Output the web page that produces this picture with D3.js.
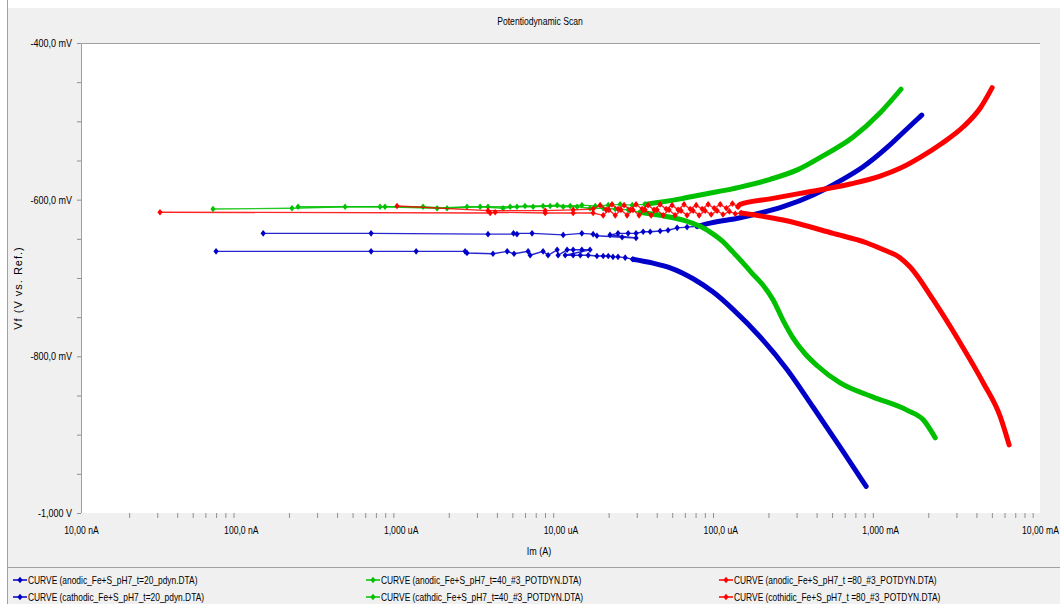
<!DOCTYPE html>
<html>
<head>
<meta charset="utf-8">
<script src="https://cdnjs.cloudflare.com/ajax/libs/d3/7.8.5/d3.min.js"></script>
<style>
  html, body { margin: 0; padding: 0; background: #fff; }
  svg { display: block; font-family: "Liberation Sans", Arial, sans-serif; }
</style>
</head>
<body>
<svg id="chart" width="1060" height="604"></svg>
<script>
// Potentiodynamic scan - Fe+S pH7 at t=20/40/80
// points are [current (A), potential (mV)]

const chartTitle = 'Potentiodynamic Scan'
const xTitle = 'Im (A)'
const yTitle = 'Vf (V vs. Ref.)'

const xTickValues = [1e-8, 1e-7, 1e-6, 1e-5, 1e-4, 1e-3, 1e-2]
const xTickLabels = ['10,00 nA', '100,0 nA', '1,000 uA', '10,00 uA', '100,0 uA', '1,000 mA', '10,00 mA']
const yTickValues = [-400, -600, -800, -1000]
const yTickLabels = ['-400,0 mV', '-600,0 mV', '-800,0 mV', '-1,000 V']

const legendLabels = [
  'CURVE (anodic_Fe+S_pH7_t=20_pdyn.DTA)',
  'CURVE (cathodic_Fe+S_pH7_t=20_pdyn.DTA)',
  'CURVE (anodic_Fe+S_pH7_t=40_#3_POTDYN.DTA)',
  'CURVE (cathdic_Fe+S_pH7_t=40_#3_POTDYN.DTA)',
  'CURVE (anodic_Fe+S_pH7_t =80_#3_POTDYN.DTA)',
  'CURVE (cothidic_Fe+S_pH7_t =80_#3_POTDYN.DTA)'
]

// t=20 anodic
const blueAnodicNear = [
  [1.38e-7, -643], [6.53e-7, -643], [3.52e-6, -644], [5.34e-6, -644], [5.08e-6, -643],
  [6.64e-6, -643], [1.04e-5, -645], [1.36e-5, -643], [1.60e-5, -644], [1.69e-5, -646],
  [2.43e-5, -648], [2.97e-5, -649], [2.04e-5, -645], [2.29e-5, -643], [2.65e-5, -643],
  [2.97e-5, -643], [3.29e-5, -641], [3.64e-5, -641], [4.20e-5, -640], [4.71e-5, -639],
  [5.37e-5, -636], [6.19e-5, -635], [7.16e-5, -634]
]
const blueAnodicBranch = [
  [7.16e-5, -634], [8.63e-5, -630], [1.33e-4, -623], [2.47e-4, -609], [3.81e-4, -594],
  [5.62e-4, -576], [7.83e-4, -558], [1.11e-3, -533], [1.43e-3, -512], [1.82e-3, -492]
]

// t=20 cathodic
const blueCathodicNear = [
  [7.00e-8, -666], [6.53e-7, -666], [1.25e-6, -666], [2.53e-6, -666], [2.60e-6, -668],
  [3.78e-6, -669], [4.64e-6, -666], [5.12e-6, -669], [6.27e-6, -666], [6.46e-6, -671],
  [7.78e-6, -666], [8.36e-6, -671], [9.53e-6, -664], [9.66e-6, -671], [1.10e-5, -664],
  [1.20e-5, -664], [1.36e-5, -664], [1.53e-5, -664], [1.07e-5, -671], [1.20e-5, -671],
  [1.33e-5, -671], [1.49e-5, -671], [1.69e-5, -672], [1.85e-5, -672], [1.99e-5, -672],
  [2.13e-5, -673], [2.29e-5, -673], [2.54e-5, -674], [2.84e-5, -676]
]
const blueCathodicBranch = [
  [2.84e-5, -676], [3.79e-5, -681], [4.86e-5, -687], [6.76e-5, -701], [9.02e-5, -718],
  [1.20e-4, -740], [1.77e-4, -775], [2.62e-4, -817], [3.81e-4, -865], [5.62e-4, -916],
  [8.17e-4, -966]
]

// t=40 anodic
const greenAnodicNear = [
  [6.70e-8, -612], [2.09e-7, -611], [4.49e-7, -609], [7.98e-7, -609], [1.69e-6, -611],
  [2.60e-6, -609], [3.52e-6, -609], [4.84e-6, -609], [6.00e-6, -608], [7.78e-6, -608],
  [9.53e-6, -607], [1.15e-5, -608], [1.36e-5, -607], [1.65e-5, -608], [1.99e-5, -607],
  [2.36e-5, -606], [2.81e-5, -607], [3.38e-5, -606]
]
const greenAnodicBranch = [
  [3.38e-5, -606], [5.60e-5, -599], [7.48e-5, -594], [1.33e-4, -584], [2.05e-4, -574],
  [3.03e-4, -562], [4.22e-4, -546], [6.78e-4, -520], [1.00e-3, -489], [1.35e-3, -459]
]

// t=40 cathodic
const greenCathodicNear = [
  [2.28e-7, -609], [7.43e-7, -609], [1.38e-6, -609], [1.95e-6, -611], [3.14e-6, -609],
  [4.37e-6, -611], [5.34e-6, -609], [6.74e-6, -609], [8.61e-6, -608], [1.04e-5, -609],
  [1.27e-5, -609], [1.53e-5, -611], [1.85e-5, -611], [2.20e-5, -612], [2.65e-5, -613],
  [3.15e-5, -616]
]
const greenCathodicBranch = [
  [3.15e-5, -616], [4.20e-5, -620], [5.85e-5, -626], [7.48e-5, -634], [8.89e-5, -643],
  [1.03e-4, -653], [1.20e-4, -667], [1.39e-4, -681], [1.58e-4, -694], [1.83e-4, -708],
  [2.14e-4, -728], [2.47e-4, -754], [2.86e-4, -777], [3.40e-4, -797], [4.04e-4, -812],
  [5.62e-4, -834], [9.04e-4, -852], [1.48e-3, -869], [1.86e-3, -881], [2.21e-3, -904]
]

// t=80 anodic
const redAnodicNear = [
  [9.49e-7, -608], [3.52e-6, -614], [8.02e-6, -614], [1.20e-5, -613], [1.60e-5, -612],
  [1.77e-5, -607], [1.93e-5, -613], [2.10e-5, -606], [2.29e-5, -612], [2.50e-5, -607],
  [2.73e-5, -613], [2.97e-5, -606], [3.24e-5, -612], [3.53e-5, -607], [3.85e-5, -613],
  [4.20e-5, -606], [4.58e-5, -612], [4.99e-5, -607], [5.44e-5, -613], [5.93e-5, -606],
  [6.47e-5, -612], [7.06e-5, -607], [7.69e-5, -612], [8.39e-5, -606], [9.15e-5, -611],
  [9.98e-5, -606], [1.09e-4, -611], [1.19e-4, -605], [1.29e-4, -609]
]
const redAnodicBranch = [
  [1.29e-4, -609], [1.33e-4, -606], [2.05e-4, -599], [3.16e-4, -592], [6.49e-4, -580],
  [1.00e-3, -570], [1.33e-3, -560], [1.78e-3, -546], [2.44e-3, -528], [3.31e-3, -507],
  [4.23e-3, -483], [5.02e-3, -457]
]

// t=80 cathodic
const redCathodicNear = [
  [3.12e-8, -616], [3.63e-6, -617], [3.90e-6, -616], [8.02e-6, -617], [1.20e-5, -617],
  [1.60e-5, -617], [1.85e-5, -620], [2.01e-5, -613], [2.20e-5, -620], [2.39e-5, -613],
  [2.61e-5, -620], [2.84e-5, -613], [3.10e-5, -620], [3.38e-5, -613], [3.69e-5, -620],
  [4.02e-5, -613], [4.39e-5, -620], [4.78e-5, -613], [5.21e-5, -620], [5.68e-5, -614],
  [6.19e-5, -620], [6.76e-5, -614], [7.37e-5, -620], [8.03e-5, -614], [8.76e-5, -619],
  [9.55e-5, -614], [1.04e-4, -619], [1.14e-4, -615], [1.24e-4, -618], [1.35e-4, -617]
]
const redCathodicBranch = [
  [1.35e-4, -617], [2.47e-4, -626], [5.08e-4, -643], [8.20e-4, -655], [1.05e-3, -664],
  [1.33e-3, -674], [1.54e-3, -686], [2.15e-3, -728], [3.17e-3, -783], [4.42e-3, -834],
  [5.64e-3, -877], [6.41e-3, -913]
]

const BLUE = '#0000c8'
const GREEN = '#00c000'
const RED = '#ff0000'

const series = [
  { name: legendLabels[0], color: BLUE, near: blueAnodicNear, branch: blueAnodicBranch },
  { name: legendLabels[1], color: BLUE, near: blueCathodicNear, branch: blueCathodicBranch },
  { name: legendLabels[2], color: GREEN, near: greenAnodicNear, branch: greenAnodicBranch },
  { name: legendLabels[3], color: GREEN, near: greenCathodicNear, branch: greenCathodicBranch },
  { name: legendLabels[4], color: RED, near: redAnodicNear, branch: redAnodicBranch },
  { name: legendLabels[5], color: RED, near: redCathodicNear, branch: redCathodicBranch }
]

const width = 1060
const height = 604
const plot = { left: 81, top: 43, right: 1040, bottom: 513 }
const narrow = 'scale(0.82,1)'   // the original uses a condensed UI font

const svg = d3.select('#chart')

// panel
svg.append('rect')
  .attr('x', 8).attr('y', 8)
  .attr('width', width - 8).attr('height', height - 8)
  .attr('fill', '#f0f0f0')

svg.append('line')
  .attr('x1', 7.5).attr('x2', 7.5)
  .attr('y1', 0).attr('y2', height)
  .attr('stroke', '#a0a0a0')

// plot area
svg.append('rect')
  .attr('x', plot.left).attr('y', plot.top)
  .attr('width', plot.right - plot.left).attr('height', plot.bottom - plot.top)
  .attr('fill', '#ffffff')

svg.append('path')
  .attr('d', `M${plot.left + 0.5},${plot.bottom}V${plot.top + 0.5}H${plot.right}`)
  .attr('fill', 'none')
  .attr('stroke', '#a0a0a0')

const x = d3.scaleLog().domain([1e-8, 1e-2]).range([plot.left, plot.right])
const y = d3.scaleLinear().domain([-1000, -400]).range([plot.bottom, plot.top])

// x axis: minor ticks + decade labels
const xMinor = x.ticks().filter(v => Math.abs(Math.log10(v) - Math.round(Math.log10(v))) > 1e-6)

const xMinorAxis = svg.append('g')
  .attr('transform', `translate(0,${plot.bottom})`)
  .call(d3.axisBottom(x).tickValues(xMinor).tickSize(5).tickFormat(''))
xMinorAxis.select('.domain').remove()
xMinorAxis.selectAll('line').attr('stroke', '#909090')

const xLabelAxis = svg.append('g')
  .attr('transform', `translate(0,${plot.bottom})`)
  .call(d3.axisBottom(x).tickValues(xTickValues).tickSize(0).tickPadding(14)
    .tickFormat((d, i) => xTickLabels[i]))
xLabelAxis.select('.domain').remove()
xLabelAxis.selectAll('text')
  .attr('font-family', null)
  .attr('transform', narrow)
  .style('font-size', '10.5px')
  .attr('fill', '#000')

// y axis: 50 mV ticks + labels every 200 mV
const yMinor = d3.range(-1000, -399, 50)

const yMinorAxis = svg.append('g')
  .attr('transform', `translate(${plot.left},0)`)
  .call(d3.axisLeft(y).tickValues(yMinor).tickSize(4).tickFormat(''))
yMinorAxis.select('.domain').remove()
yMinorAxis.selectAll('line').attr('stroke', '#909090')

const yLabelAxis = svg.append('g')
  .attr('transform', `translate(${plot.left},0)`)
  .call(d3.axisLeft(y).tickValues(yTickValues).tickSize(0).tickPadding(11)
    .tickFormat((d, i) => yTickLabels[i]))
yLabelAxis.select('.domain').remove()
yLabelAxis.selectAll('text')
  .attr('font-family', null)
  .attr('transform', narrow)
  .style('font-size', '11px')
  .attr('fill', '#000')

// titles
svg.append('text')
  .attr('transform', `translate(540,25) ${narrow}`)
  .attr('text-anchor', 'middle')
  .style('font-size', '10.5px')
  .text(chartTitle)

svg.append('text')
  .attr('transform', `translate(539,555) ${narrow}`)
  .attr('text-anchor', 'middle')
  .style('font-size', '11px')
  .text(xTitle)

svg.append('text')
  .attr('transform', 'translate(22,288) rotate(-90)')
  .attr('text-anchor', 'middle')
  .style('font-size', '11px')
  .style('letter-spacing', '1px')
  .text(yTitle)

// curves
const line = d3.line().x(d => x(d[0])).y(d => y(d[1]))
const smooth = d3.line().x(d => x(d[0])).y(d => y(d[1])).curve(d3.curveMonotoneX)
const diamond = 'M0,-3.3L2.6,0L0,3.3L-2.6,0Z'

const curves = svg.append('g')
series.forEach(s => {
  const g = curves.append('g')
  g.append('path')
    .datum(s.near)
    .attr('d', line)
    .attr('fill', 'none')
    .attr('stroke', s.color)
    .attr('stroke-width', 1.4)
    .attr('stroke-opacity', 0.85)

  g.selectAll('.mk')
    .data(s.near)
    .enter()
    .append('path')
    .classed('mk', true)
    .attr('d', diamond)
    .attr('transform', d => `translate(${x(d[0])},${y(d[1])})`)
    .attr('fill', s.color)

  g.append('path')
    .datum(s.branch)
    .attr('d', smooth)
    .attr('fill', 'none')
    .attr('stroke', s.color)
    .attr('stroke-width', 5)
    .attr('stroke-linejoin', 'round')
    .attr('stroke-linecap', 'round')
})

// legend
svg.append('line')
  .attr('x1', 8).attr('x2', width)
  .attr('y1', 567.5).attr('y2', 567.5)
  .attr('stroke', '#a0a0a0')

const legendCols = [13, 366, 719]
const legendRows = [580, 597]
series.forEach((s, i) => {
  const lx = legendCols[Math.floor(i / 2)]
  const ly = legendRows[i % 2]
  const item = svg.append('g').attr('transform', `translate(${lx},${ly})`)
  item.append('line')
    .attr('x1', 0).attr('x2', 14)
    .attr('stroke', s.color).attr('stroke-width', 1.5)
  item.append('path')
    .attr('d', diamond)
    .attr('transform', 'translate(7,0)')
    .attr('fill', s.color)
  item.append('text')
    .attr('transform', 'translate(15,4) scale(0.8,1)')
    .style('font-size', '10.5px')
    .text(s.name)
})
</script>
</body>
</html>
